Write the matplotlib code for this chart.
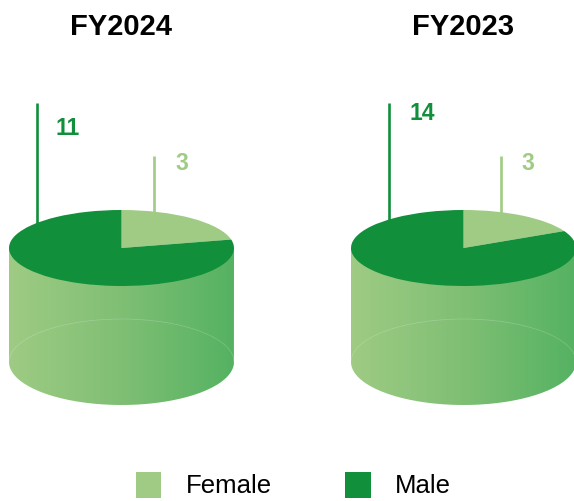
import numpy as np
import matplotlib
matplotlib.use("Agg")
import matplotlib.pyplot as plt
from matplotlib.colors import LinearSegmentedColormap
from matplotlib.patches import Arc, Patch, PathPatch
from matplotlib.path import Path

plt.rcParams['font.family'] = ['Liberation Sans', 'DejaVu Sans']

years = ["FY2024", "FY2023"]
female = [3, 3]
male = [11, 14]
series_names = ["Female", "Male"]

LIGHT = "#9fcb84"
DARK = "#118f3a"
W, H = 574, 501

# layout in pixels, one entry per cylinder
centers = [121.5, 463.5]
male_line_x = [36.5, 388.5]
female_line_x = [154, 500.5]
male_text = [(68, 128), (422, 113)]
female_text = [(181.5, 164), (528, 164)]
title_y = 26.5
rx, top_y, top_ry = 112.5, 248, 38
bot_y, bot_ry = 362, 43

side_cmap = LinearSegmentedColormap.from_list("side", ["#9fcb84", "#7fbf74", "#55b262"])

fig = plt.figure(figsize=(W / 100, H / 100), dpi=100)
ax = fig.add_axes([0, 0, 1, 1])


def cylinder_side(cx):
    t = np.linspace(np.pi, 0, 80)
    top = np.column_stack([cx + rx * np.cos(t), top_y + 0 * t])
    bot = np.column_stack([cx + rx * np.cos(t[::-1]), bot_y + bot_ry * np.sin(t[::-1])])
    verts = np.vstack([top, bot, top[:1]])
    return Path(verts)


for i, year in enumerate(years):
    cx = centers[i]

    # leader lines sit behind the cylinder
    ax.plot([male_line_x[i]] * 2, [103, top_y - 10], color=DARK, lw=1.9, solid_capstyle="butt", zorder=1)
    ax.plot([female_line_x[i]] * 2, [156, top_y - 20], color=LIGHT, lw=1.9, solid_capstyle="butt", zorder=1)

    # side of the cylinder with left to right gradient
    grad = np.linspace(0, 1, 256).reshape(1, -1)
    im = ax.imshow(grad, cmap=side_cmap, aspect="auto", zorder=2,
                   extent=[cx - rx, cx + rx, bot_y + bot_ry, top_y])
    im.set_clip_path(PathPatch(cylinder_side(cx), transform=ax.transData))

    # faint back edge of the bottom ellipse
    ax.add_patch(Arc((cx, bot_y), 2 * rx, 2 * bot_ry, theta1=180, theta2=360,
                     color="white", alpha=0.22, lw=0.5, zorder=3))

    ax.text(cx, title_y, year, ha="center", va="center", fontsize=21, fontweight="bold", color="black")
    ax.text(*male_text[i], str(male[i]), ha="center", va="center", fontsize=16.5, fontweight="bold", color=DARK)
    ax.text(*female_text[i], str(female[i]), ha="center", va="center", fontsize=16.5, fontweight="bold", color=LIGHT)

ax.set_xlim(0, W)
ax.set_ylim(H, 0)
ax.axis("off")

# top faces, squashed pies
for i in range(len(years)):
    pie_ax = fig.add_axes([(centers[i] - rx) / W, 1 - (top_y + top_ry) / H, 2 * rx / W, 2 * top_ry / H], zorder=5)
    pie_ax.pie([female[i], male[i]], colors=[LIGHT, DARK], startangle=90, counterclock=False,
               radius=1, wedgeprops={"linewidth": 0})
    pie_ax.set_aspect("auto")
    pie_ax.set_xlim(-1, 1)
    pie_ax.set_ylim(-1, 1)
    pie_ax.axis("off")

handles = [Patch(color=LIGHT, lw=0), Patch(color=DARK, lw=0)]
ax.legend(handles, series_names, loc="center", bbox_to_anchor=(293.5 / W, 1 - 485 / H),
          ncol=2, frameon=False, fontsize=18.5, handlelength=1.0, handleheight=1.0,
          handletextpad=0.95, columnspacing=2.85, borderpad=0, borderaxespad=0)
for h in ax.get_legend().get_patches():
    h.set_height(18.7)
    h.set_y(-3.6)

fig.savefig("out.png", dpi=100)
